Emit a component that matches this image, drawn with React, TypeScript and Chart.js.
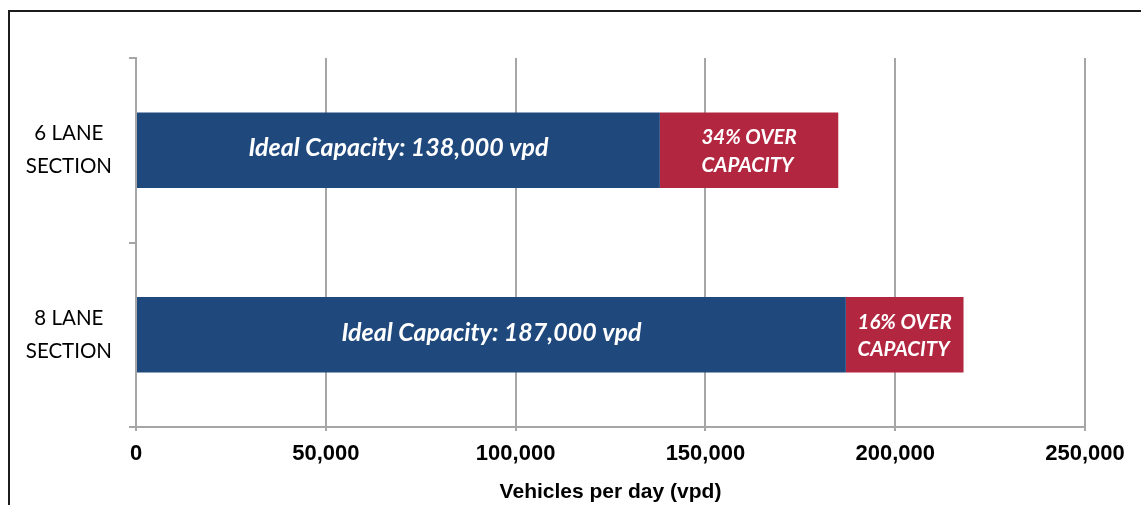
import React, { useEffect, useRef } from 'react';
import { Chart, registerables } from 'chart.js';

Chart.register(...registerables);

// ---- data ----
const categories = [['6 LANE', 'SECTION'], ['8 LANE', 'SECTION']];
const idealCapacity = [138000, 187000];
const overCapacity = [47000, 31000];
const overPercent = [34, 16];
const xTickValues = [0, 50000, 100000, 150000, 200000, 250000];
const xTitle = 'Vehicles per day (vpd)';

// ---- styles ----
const ARIAL = "'Liberation Sans', Arial, sans-serif";
const HUMAN = "Lato, 'Open Sans', sans-serif";
const BLUE = '#1f497d';
const RED = '#b3263f';
const GRID = '#a6a6a6';

const fmt = (v: number) => v.toLocaleString('en-US');

const barLabels = {
  id: 'barLabels',
  afterDatasetsDraw(chart: any) {
    const ctx = chart.ctx;
    ctx.save();
    ctx.fillStyle = '#ffffff';
    ctx.textBaseline = 'middle';
    const m0 = chart.getDatasetMeta(0);
    m0.data.forEach((bar: any, i: number) => {
      const { x, y, base } = bar.getProps(['x', 'y', 'base'], true);
      ctx.font = `italic bold 25px ${HUMAN}`;
      ctx.textAlign = 'center';
      ctx.fillText(`Ideal Capacity: ${fmt(idealCapacity[i])} vpd`, (x + base) / 2, y - 2);
    });
    const m1 = chart.getDatasetMeta(1);
    m1.data.forEach((bar: any, i: number) => {
      const { x, y, base } = bar.getProps(['x', 'y', 'base'], true);
      const lines = [`${overPercent[i]}% OVER`, 'CAPACITY'];
      ctx.font = `italic bold 20.5px ${HUMAN}`;
      ctx.textAlign = 'left';
      const w = Math.max(...lines.map((l) => ctx.measureText(l).width));
      const cx = (x + base) / 2;
      const lh = 27.5;
      lines.forEach((l, k) => {
        ctx.fillText(l, cx - w / 2, y + 1 + (k - (lines.length - 1) / 2) * lh);
      });
    });
    ctx.restore();
  },
};

export default function App() {
  const ref = useRef<HTMLCanvasElement>(null);

  useEffect(() => {
    const chart = new Chart(ref.current as HTMLCanvasElement, {
      type: 'bar',
      data: {
        labels: categories as any,
        datasets: [
          {
            label: 'Ideal Capacity',
            data: idealCapacity,
            backgroundColor: BLUE,
            borderWidth: 0,
            categoryPercentage: 1,
            barPercentage: 0.41,
          },
          {
            label: 'Over Capacity',
            data: overCapacity,
            backgroundColor: RED,
            borderWidth: 0,
            categoryPercentage: 1,
            barPercentage: 0.41,
          },
        ],
      },
      options: {
        indexAxis: 'y',
        animation: false,
        responsive: false,
        maintainAspectRatio: false,
        devicePixelRatio: 1,
        layout: { padding: { top: 58, right: 56, left: 0, bottom: 0 } },
        plugins: {
          legend: { display: false },
          tooltip: { enabled: false },
        },
        scales: {
          x: {
            type: 'linear',
            stacked: true,
            min: 0,
            max: 250000,
            afterBuildTicks: (s: any) => {
              s.ticks = xTickValues.map((v) => ({ value: v }));
            },
            afterFit: (s: any) => {
              s.height = 78;
            },
            ticks: {
              callback: (v: any) => fmt(Number(v)),
              font: { family: ARIAL, size: 22, weight: 'bold' },
              color: '#000',
              padding: 10,
              maxRotation: 0,
              autoSkip: false,
            },
            grid: { color: GRID, lineWidth: 2, tickLength: 4 },
            border: { color: GRID, width: 2 },
            title: {
              display: true,
              text: xTitle,
              font: { family: ARIAL, size: 21, weight: 'bold' },
              color: '#000',
              padding: { top: 0, bottom: 0 },
            },
          },
          y: {
            type: 'category',
            stacked: true,
            offset: true,
            afterFit: (s: any) => {
              s.width = 136;
            },
            ticks: {
              font: { family: HUMAN, size: 20.5, lineHeight: 1.61 },
              color: '#000',
              crossAlign: 'center',
              padding: 17,
            },
            grid: {
              offset: true,
              drawOnChartArea: false,
              drawTicks: true,
              tickLength: 7,
              color: GRID,
              lineWidth: 2,
            },
            border: { color: GRID, width: 2 },
          },
        },
      } as any,
      plugins: [barLabels],
    });
    return () => chart.destroy();
  }, []);

  return (
    <div
      style={{
        position: 'fixed',
        left: 0,
        top: 0,
        width: 1141,
        height: 505,
        overflow: 'hidden',
        background: '#fff',
      }}
    >
      <canvas
        ref={ref}
        width={1141}
        height={505}
        style={{ position: 'absolute', left: 0, top: 0, width: 1141, height: 505, display: 'block' }}
      />
      <div
        style={{
          position: 'absolute',
          left: 8,
          top: 10,
          width: 1200,
          height: 600,
          border: '2px solid #1c1c1c',
          pointerEvents: 'none',
        }}
      />
    </div>
  );
}
